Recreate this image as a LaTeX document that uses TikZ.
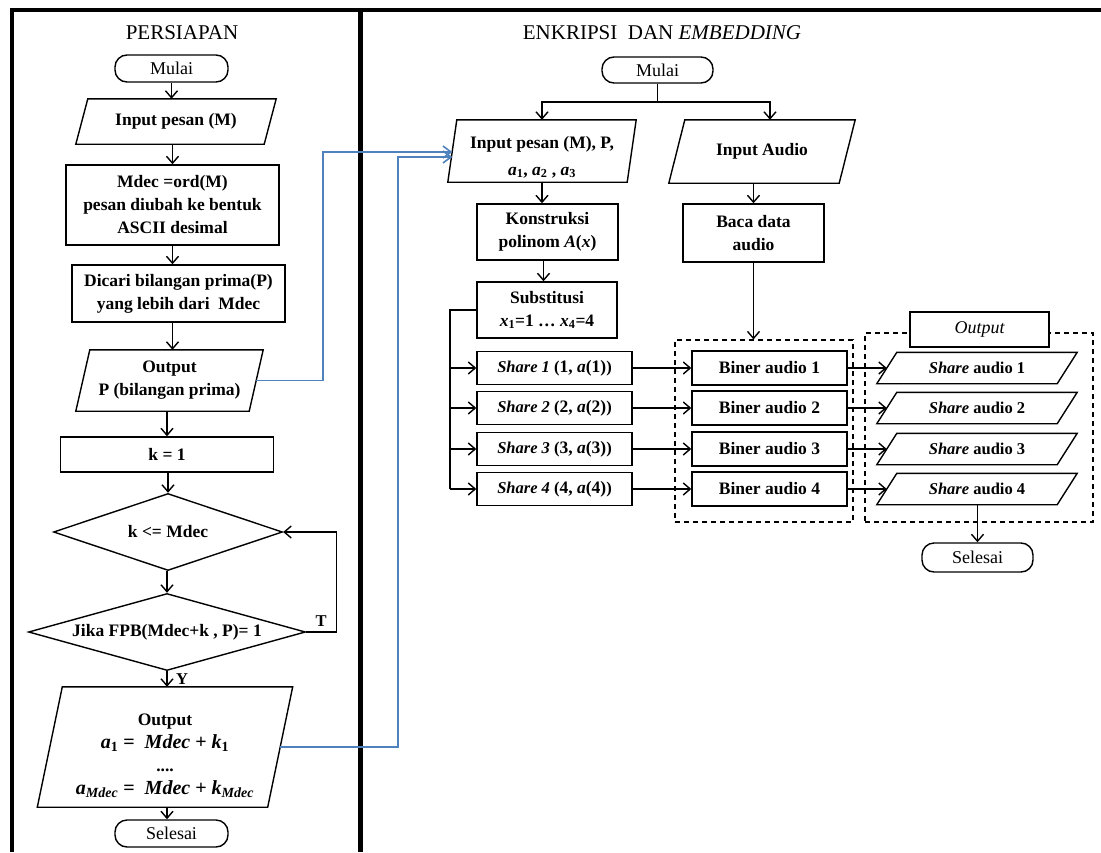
\documentclass[tikz,border=0pt]{standalone}
\usepackage{fontspec}
\setmainfont{Liberation Serif}
\usetikzlibrary{shapes.geometric,arrows.meta}

\definecolor{linkblue}{RGB}{79,129,189}

\newcommand\bxfont{\fontsize{17.5}{23}\selectfont\bfseries}
\newcommand\smfont{\fontsize{16.5}{20}\selectfont\bfseries}
\newcommand\tmfont{\fontsize{18}{20}\selectfont}
\newcommand\hdfont{\fontsize{21}{24}\selectfont}
\newcommand\eqfont{\fontsize{20}{23}\selectfont}
% italic variable with an optional upright subscript
\newcommand\var[2]{\textit{#1}\textsubscript{#2}}

% parallelogram outline around a (borderless) node; #2 = half of the slant
\newcommand\slantbox[2]{\draw[link, line join=miter]
  ([xshift=#2]#1.north west) -- ([xshift=#2]#1.north east) --
  ([xshift=-#2]#1.south east) -- ([xshift=-#2]#1.south west) -- cycle;}

\tikzset{
  link/.style={line width=1.4pt},
  arr/.style={line width=1.4pt, -{Straight Barb[length=7pt,width=12pt]}},
  bluearr/.style={line width=1.6pt, draw=linkblue, -{Straight Barb[length=8pt,width=12pt]}},
  proc/.style={draw, line width=1.4pt, rectangle, inner sep=0pt, align=center, font=\bxfont},
  term/.style={draw, line width=1.4pt, rectangle, rounded corners=12pt, inner sep=0pt, font=\tmfont},
  io/.style={rectangle, inner sep=0pt, align=center, font=\bxfont},
  dec/.style={draw, diamond, line width=1.4pt, inner sep=0pt, font=\bxfont},
  grp/.style={draw, line width=1.1pt, dash pattern=on 5pt off 4pt, inner sep=0pt},
  hd/.style={font=\hdfont, inner sep=0pt},
  lbl/.style={font=\smfont, inner sep=0pt},
}

\begin{document}
\begin{tikzpicture}[x=1pt,y=-1pt]
\useasboundingbox (0,0) rectangle (1101,852);

% panel frame
\draw[line width=4pt, line join=miter] (11.5,852) -- (11.5,9.5) -- (1101,9.5);
\draw[line width=4.5pt] (360.5,9.5) -- (360.5,852);

% ---------------- PERSIAPAN ----------------
\node[hd] (tPrep) at (182,33) {PERSIAPAN};
\node[term, minimum width=113, minimum height=27] (mulaiL) at (171.5,68.5) {Mulai};
\node[io, minimum width=188, minimum height=45] (inM) at (176,121.5) {Input pesan (M)};
\slantbox{inM}{6pt}
\node[proc, minimum width=213, minimum height=80] (mdec) at (172.5,205)
  {Mdec =ord(M)\\pesan diubah ke bentuk\\ASCII desimal};
\node[proc, minimum width=213, minimum height=57] (dicari) at (178.5,293.5)
  {Dicari bilangan prima(P)\\yang lebih dari\ \ Mdec};
\node[io, minimum width=173, minimum height=61] (outP) at (169.5,380.5)
  {Output\\P (bilangan prima)};
\slantbox{outP}{7pt}
\node[proc, minimum width=213, minimum height=35] (k1) at (167,454.5) {k = 1};
\node[dec, minimum width=229, minimum height=77, shape aspect=3] (dk) at (168,532) {k <= Mdec};
\node[dec, minimum width=277, minimum height=77, shape aspect=3.6] (dj) at (167,632)
  {Jika FPB(Mdec+k , P)= 1};
\node[io, minimum width=230, minimum height=120] (outA) at (165,747)
  {\rule{0pt}{30pt}Output\\[0pt]{\eqfont\var{a}{1} =\ \ \textit{Mdec} + \var{k}{1}}\\[0pt]....\\[0pt]
   {\eqfont\var{a}{\textit{Mdec}} =\ \ \textit{Mdec} + \var{k}{\textit{Mdec}}}};
\slantbox{outA}{12.5pt}
\node[term, minimum width=113, minimum height=27] (selL) at (171.5,833.5) {Selesai};

\node[lbl] (tLbl) at (321,621) {T};
\node[lbl] (yLbl) at (182,679) {Y};

\draw[arr] (mulaiL.south) -- (mulaiL.south |- inM.north);
\draw[arr] (inM.south -| mdec.north) -- (mdec.north);
\draw[arr] (mdec.south) -- (mdec.south |- dicari.north);
\draw[arr] (mdec.south |- dicari.south) -- (mdec.south |- outP.north);
\draw[arr] (outP.south -| k1.north) -- (k1.north);
\draw[arr] (k1.south -| dk.north) -- (dk.north);
\draw[arr] (dk.south -| dj.north) -- (dj.north);
\draw[arr] (dj.south) -- (dj.south |- outA.north);
\draw[arr] (dj.south |- outA.south) -- (dj.south |- selL.north);
\draw[arr] (dj.east) -- ++(30,0) |- (dk.east);

% ---------------- ENKRIPSI DAN EMBEDDING ----------------
\node[hd] (tEnc) at (662,33) {ENKRIPSI\ \ DAN \textit{EMBEDDING}};
\node[term, minimum width=111, minimum height=26] (mulaiR) at (657.5,70) {Mulai};
\node[io, minimum width=179, minimum height=62] (inP) at (542,151)
  {\rule{0pt}{24pt}Input pesan (M), P,\\[4pt]\var{a}{1}, \var{a}{2} , \var{a}{3}};
\slantbox{inP}{4.5pt}
\node[io, minimum width=170, minimum height=63] (inAu) at (762,151.5) {Input Audio};
\slantbox{inAu}{8pt}
\node[proc, minimum width=141, minimum height=56] (konst) at (547.5,232)
  {Konstruksi\\polinom \textit{A}(\textit{x})};
\node[proc, minimum width=141, minimum height=58] (baca) at (753.5,233)
  {Baca data\\audio};
\node[proc, minimum width=140, minimum height=56] (subs) at (547,310)
  {Substitusi\\\var{x}{1}=1 \dots\ \var{x}{4}=4};

% groups
\node[grp, minimum width=178, minimum height=182] (grpB) at (764,431) {};
\node[grp, minimum width=228, minimum height=189] (grpO) at (979,427.5) {};
\node[draw, line width=1.2pt, fill=white, inner sep=0pt, minimum width=139, minimum height=35,
      font=\tmfont\itshape] (outLbl) at (979.5,329.5) {Output};

\foreach \i/\yy in {1/368,2/408,3/449,4/489}{
  \node[proc, font=\smfont, minimum width=155, minimum height=33] (sh\i) at (554.5,\yy)
    {\textit{Share \i} ({\fontsize{17.5}{20}\selectfont\i,~\textit{a}(\i)})};
  \node[proc, minimum width=155, minimum height=34] (bi\i) at (769.5,\yy) {Biner audio \i};
  \node[io, font=\smfont, minimum width=180, minimum height=31] (sa\i) at (977,\yy)
    {\textit{Share} audio \i};
  \slantbox{sa\i}{10pt}
}
\node[term, minimum width=111, minimum height=29] (selR) at (977.5,557.5) {Selesai};

\coordinate (splitR) at (657.5,102);
\draw[link] (mulaiR.south) -- (splitR);
\draw[arr] (splitR) -| (inP.north);
\draw[arr] (splitR) -| ([xshift=8pt]inAu.north);
\draw[arr] (inP.south) -- (inP.south |- konst.north);
\draw[arr] ([xshift=-4pt]konst.south) -- ([xshift=-4pt]konst.south |- subs.north);
\draw[arr] (inAu.south -| baca.north) -- (baca.north);
\draw[arr] (baca.south) -- (baca.south |- grpB.north);

\coordinate (bus) at (450,310);
\draw[line width=2pt] (subs.west) -- (bus) -- (bus |- sh4.west);
\foreach \i in {1,...,4}{
  \draw[arr] (bus |- sh\i.west) -- (sh\i.west);
  \draw[arr] (sh\i.east) -- (bi\i.west);
  \draw[arr] (bi\i.east) -- (sa\i.west);
}
\draw[arr] (sa4.south -| selR.north) -- (selR.north);

% links between the panels
\coordinate (j1) at (323,152);
\coordinate (j2) at (398,157);
\draw[bluearr] (outP.east) -| (j1) -- (j1 -| inP.west);
\draw[bluearr] (outA.east) -| (j2) -- (j2 -| inP.west);
\end{tikzpicture}
\end{document}
